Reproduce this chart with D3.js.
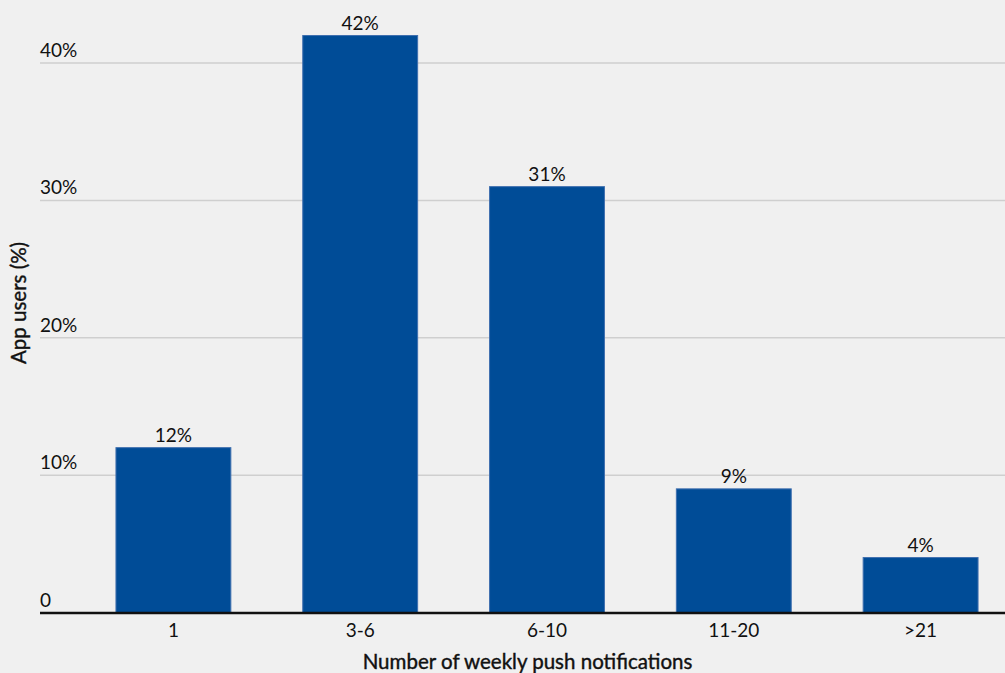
<!DOCTYPE html>
<html><head><meta charset="utf-8">
<script src="https://cdn.jsdelivr.net/npm/d3@7"></script>
<style>
html,body{margin:0;padding:0;background:#f0f0f0;}
svg{display:block;font-family:Lato,"Noto Sans",sans-serif;}
</style></head><body>
<svg id="c" width="1005" height="673"></svg>
<script>
const categories = ["1","3-6","6-10","11-20",">21"];
const values = [12,42,31,9,4];
const yTicks = [0,10,20,30,40];
const yTickLabels = ["0","10%","20%","30%","40%"];
const xTitle = "Number of weekly push notifications";
const yTitle = "App users (%)";

const svg = d3.select("#c");
const W = 1005, H = 673;
const x = d3.scaleBand().domain(categories).range([80,1014]).paddingInner(0.385).paddingOuter(0.1925);
const y = d3.scaleLinear().domain([0,40]).range([612.5,63]);

svg.append("rect").attr("width",W).attr("height",H).attr("fill","#f0f0f0");

// gridlines
svg.append("g").selectAll("line").data(yTicks.filter(d=>d>0)).join("line")
  .attr("x1",40).attr("x2",W).attr("y1",d=>y(d)).attr("y2",d=>y(d))
  .attr("stroke","#cfcfcf").attr("stroke-width",1.5);
svg.append("g").selectAll("text").data(yTicks).join("text")
  .attr("x",40).attr("y",d=>y(d)-6)
  .attr("font-size",19).attr("fill","#111")
  .text((d,i)=>yTickLabels[i]);

// bars
svg.append("g").selectAll("rect").data(values).join("rect")
  .attr("x",(d,i)=>x(categories[i])).attr("width",x.bandwidth())
  .attr("y",d=>y(d)).attr("height",d=>y(0)-y(d))
  .attr("fill","#004c97").attr("stroke","#3f6faf").attr("stroke-width",1);

// value labels
svg.append("g").selectAll("text").data(values).join("text")
  .attr("x",(d,i)=>x(categories[i])+x.bandwidth()/2).attr("y",d=>y(d)-6)
  .attr("text-anchor","middle").attr("font-size",19).attr("fill","#111")
  .text(d=>d+"%");

// x axis
const xAxis = d3.axisBottom(x).tickSize(0).tickPadding(11);
const gx = svg.append("g").attr("transform",`translate(0,${y(0)})`).call(xAxis);
gx.select(".domain").remove();
gx.selectAll("text").attr("font-size",19).attr("fill","#111").attr("font-family","Lato,'Noto Sans',sans-serif");
svg.append("line").attr("x1",40).attr("x2",W).attr("y1",y(0)+0.5).attr("y2",y(0)+0.5)
  .attr("stroke","#111").attr("stroke-width",2.5);

// titles
svg.append("text").attr("x",527.5).attr("y",669).attr("text-anchor","middle")
  .attr("font-size",20.5).attr("fill","#111").attr("stroke","#111").attr("stroke-width",0.4).text(xTitle);
svg.append("text").attr("transform","translate(26,303) rotate(-90)").attr("text-anchor","middle")
  .attr("font-size",20.5).attr("fill","#111").attr("stroke","#111").attr("stroke-width",0.4).text(yTitle);
</script></body></html>
